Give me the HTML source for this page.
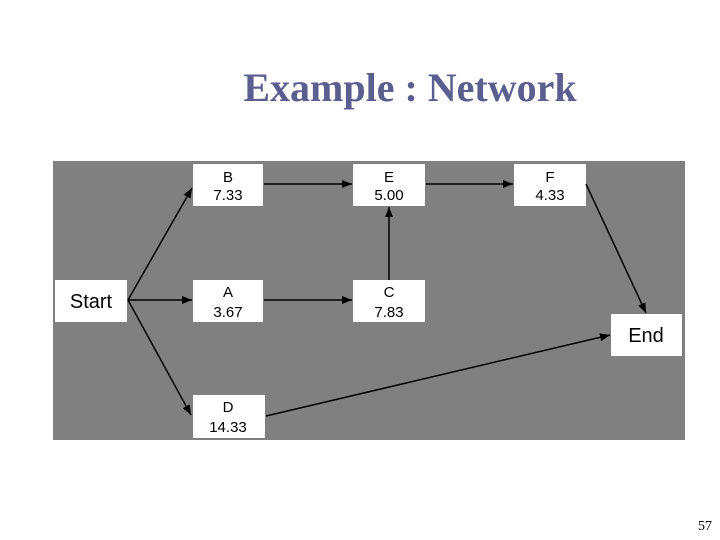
<!DOCTYPE html>
<html><head><style>
body{margin:0;width:720px;height:540px;background:#fff;position:relative;overflow:hidden;font-family:"Liberation Sans",sans-serif}
.t{position:absolute;left:0;width:820px;top:64px;text-align:center;font-family:"Liberation Serif",serif;font-weight:bold;font-size:40px;color:#5b5e8e}
.n{position:absolute;right:8px;top:519px;font-family:"Liberation Serif",serif;font-size:14px}
</style></head><body>
<div class="t">Example : Network</div>
<svg width="720" height="540" style="position:absolute;left:0;top:0">
<defs><marker id="a" markerWidth="10" markerHeight="8" refX="10" refY="4" orient="auto" markerUnits="userSpaceOnUse"><path d="M0,0L10,4L0,8z" fill="#000"/></marker></defs>
<rect x="53" y="161" width="632" height="279" fill="#808080"/>
<g fill="#fff">
<rect x="193" y="164" width="70" height="42"/><rect x="353" y="164" width="72" height="42"/><rect x="514" y="164" width="72" height="42"/>
<rect x="55" y="280" width="72" height="42"/><rect x="193" y="280" width="70" height="42"/><rect x="353" y="280" width="72" height="42"/>
<rect x="611" y="314" width="71" height="42"/><rect x="193" y="395" width="72" height="43"/>
</g>
<g stroke="#000" stroke-width="1.5" fill="none" marker-end="url(#a)">
<line x1="128" y1="300" x2="192" y2="188"/>
<line x1="128" y1="300" x2="192" y2="300"/>
<line x1="128" y1="300" x2="191" y2="415"/>
<line x1="264" y1="184" x2="352" y2="184"/>
<line x1="426" y1="184" x2="513" y2="184"/>
<line x1="264" y1="300" x2="352" y2="300"/>
<line x1="389" y1="280" x2="389" y2="207"/>
<line x1="586" y1="184" x2="646" y2="313"/>
<line x1="266" y1="416" x2="610" y2="335"/>
</g>
<g font-size="15" text-anchor="middle" fill="#000">
<text x="228" y="182">B</text><text x="228" y="200">7.33</text>
<text x="389" y="182">E</text><text x="389" y="200">5.00</text>
<text x="550" y="182">F</text><text x="550" y="200">4.33</text>
<text x="228" y="297">A</text><text x="228" y="317">3.67</text>
<text x="389" y="297">C</text><text x="389" y="317">7.83</text>
<text x="228" y="412">D</text><text x="228" y="432">14.33</text>
<text x="91" y="308" font-size="20">Start</text>
<text x="646" y="342" font-size="20">End</text>
</g>
</svg>
<div class="n">57</div>
</body></html>
